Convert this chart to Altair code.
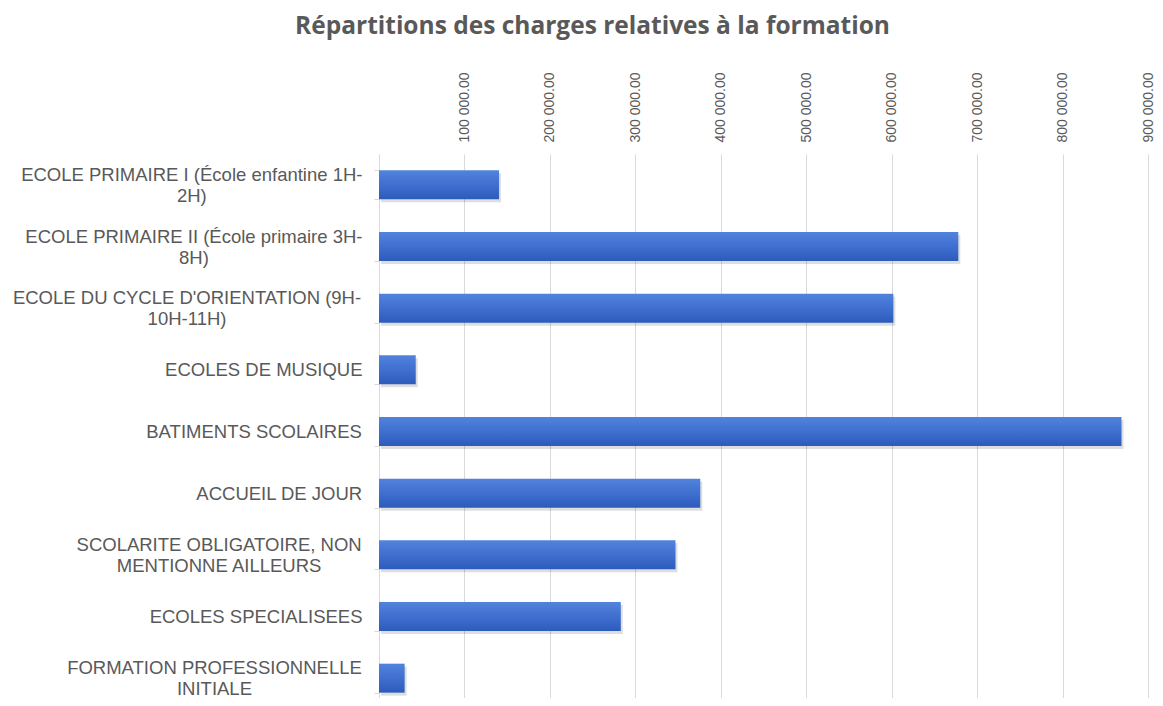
import json
import altair as alt
import pandas as pd

# ---------------- data ----------------
categories = [
    "ECOLE PRIMAIRE I (École enfantine 1H-\n2H)",
    "ECOLE PRIMAIRE II (École primaire 3H-\n8H)",
    "ECOLE DU CYCLE D'ORIENTATION (9H-\n10H-11H)",
    "ECOLES DE MUSIQUE",
    "BATIMENTS SCOLAIRES",
    "ACCUEIL DE JOUR",
    "SCOLARITE OBLIGATOIRE, NON\nMENTIONNE AILLEURS",
    "ECOLES SPECIALISEES",
    "FORMATION PROFESSIONNELLE\nINITIALE",
]
values = [140500, 678000, 602000, 43000, 869000, 376000, 347000, 283000, 30000]
tick_values = [0, 100000, 200000, 300000, 400000, 500000, 600000, 700000, 800000, 900000]
title_text = "Répartitions des charges relatives à la formation"

df = pd.DataFrame({"category": categories, "value": values})

# ---------------- styling helpers ----------------
LABEL_SIZE = 18.5
LINE_H = 21
GRAY = "#595959"
# approximate Arial / Liberation Sans advance widths (em)
W = {
    "A": .667, "B": .667, "C": .722, "D": .722, "E": .667, "F": .611, "G": .778, "H": .722,
    "I": .278, "J": .5, "K": .667, "L": .556, "M": .833, "N": .722, "O": .778, "P": .667,
    "Q": .778, "R": .722, "S": .667, "T": .611, "U": .722, "V": .667, "W": .944, "X": .667,
    "Y": .667, "Z": .611, "É": .667, "a": .556, "b": .556, "c": .5, "d": .556, "e": .556,
    "f": .278, "g": .556, "h": .556, "i": .222, "j": .222, "k": .5, "l": .222, "m": .833,
    "n": .556, "o": .556, "p": .556, "q": .556, "r": .333, "s": .5, "t": .278, "u": .556,
    "v": .5, "w": .722, "x": .5, "y": .5, "z": .5, "é": .556, " ": .278, "(": .333, ")": .333,
    "-": .333, "'": .191, ",": .278, ".": .278,
}


def text_width(s, size):
    return sum(W.get(ch, .556) for ch in s) * size


GAP = 12  # distance between label block and tick end
pad_conditions = []
offset_conditions = []
for cat in categories:
    lines = cat.split("\n")
    w = max(text_width(line, LABEL_SIZE) for line in lines)
    test = "datum.value == " + json.dumps(cat)
    pad_conditions.append({"test": test, "value": GAP + w / 2})
    if len(lines) > 1:
        offset_conditions.append({"test": test, "value": -(len(lines) - 1) * LINE_H / 2})

y_axis = alt.Axis(
    title=None,
    labelExpr="split(datum.label, '\\n')",
    labelAlign="center",
    labelBaseline="middle",
    labelPadding={"condition": pad_conditions, "value": GAP},
    labelOffset={"condition": offset_conditions, "value": 0},
    labelFont="Liberation Sans",
    labelFontSize=LABEL_SIZE,
    labelColor=GRAY,
    labelLineHeight=LINE_H,
    labelLimit=500,
    tickBand="extent",
    tickSize=5,
    tickColor="#d9d9d9",
    domainColor="#d9d9d9",
    grid=False,
)

x_axis = alt.Axis(
    title=None,
    orient="top",
    values=tick_values,
    labelExpr="datum.value == 0 ? '' : replace(format(datum.value, ',.2f'), ',', ' ')",
    labelAngle=-90,
    labelPadding=12,
    labelFont="Liberation Sans",
    labelFontSize=14,
    labelColor=GRAY,
    ticks=False,
    tickSize=0,
    domain=False,
    grid=True,
    gridColor="#d9d9d9",
    gridWidth=1,
)

x_enc = alt.X("value:Q", scale=alt.Scale(domain=[0, 900000], nice=False, zero=True), axis=x_axis)
y_enc = alt.Y(
    "category:N",
    sort=categories,
    scale=alt.Scale(range=[0, 555], paddingInner=0.53, paddingOuter=0.265),
    axis=y_axis,
)

base = alt.Chart(df)

shadow = base.mark_bar(color="#000000", opacity=0.13, xOffset=2, yOffset=3).encode(x=x_enc, y=y_enc)

bars = base.mark_bar(
    color=alt.Gradient(
        gradient="linear",
        x1=0, y1=0, x2=0, y2=1,
        stops=[
            alt.GradientStop(offset=0, color="#5283dc"),
            alt.GradientStop(offset=0.5, color="#3f6fd0"),
            alt.GradientStop(offset=1, color="#2d5bbb"),
        ],
    )
).encode(x=x_enc, y=y_enc)

chart = (
    alt.layer(shadow, bars)
    .properties(
        width=769,
        height=544,
        autosize=alt.AutoSizeParams(type="none"),
        padding={"left": 371, "top": 146, "right": 7, "bottom": 0},
        title=alt.TitleParams(
            text=title_text,
            font="Open Sans",
            fontSize=24.5,
            fontWeight="bold",
            color=GRAY,
            anchor="middle",
            frame="group",
            dx=-171,
            offset=32,
        ),
    )
    .configure_view(stroke=None)
)

chart.save("out.html", embed_options={"renderer": "svg", "actions": False})
